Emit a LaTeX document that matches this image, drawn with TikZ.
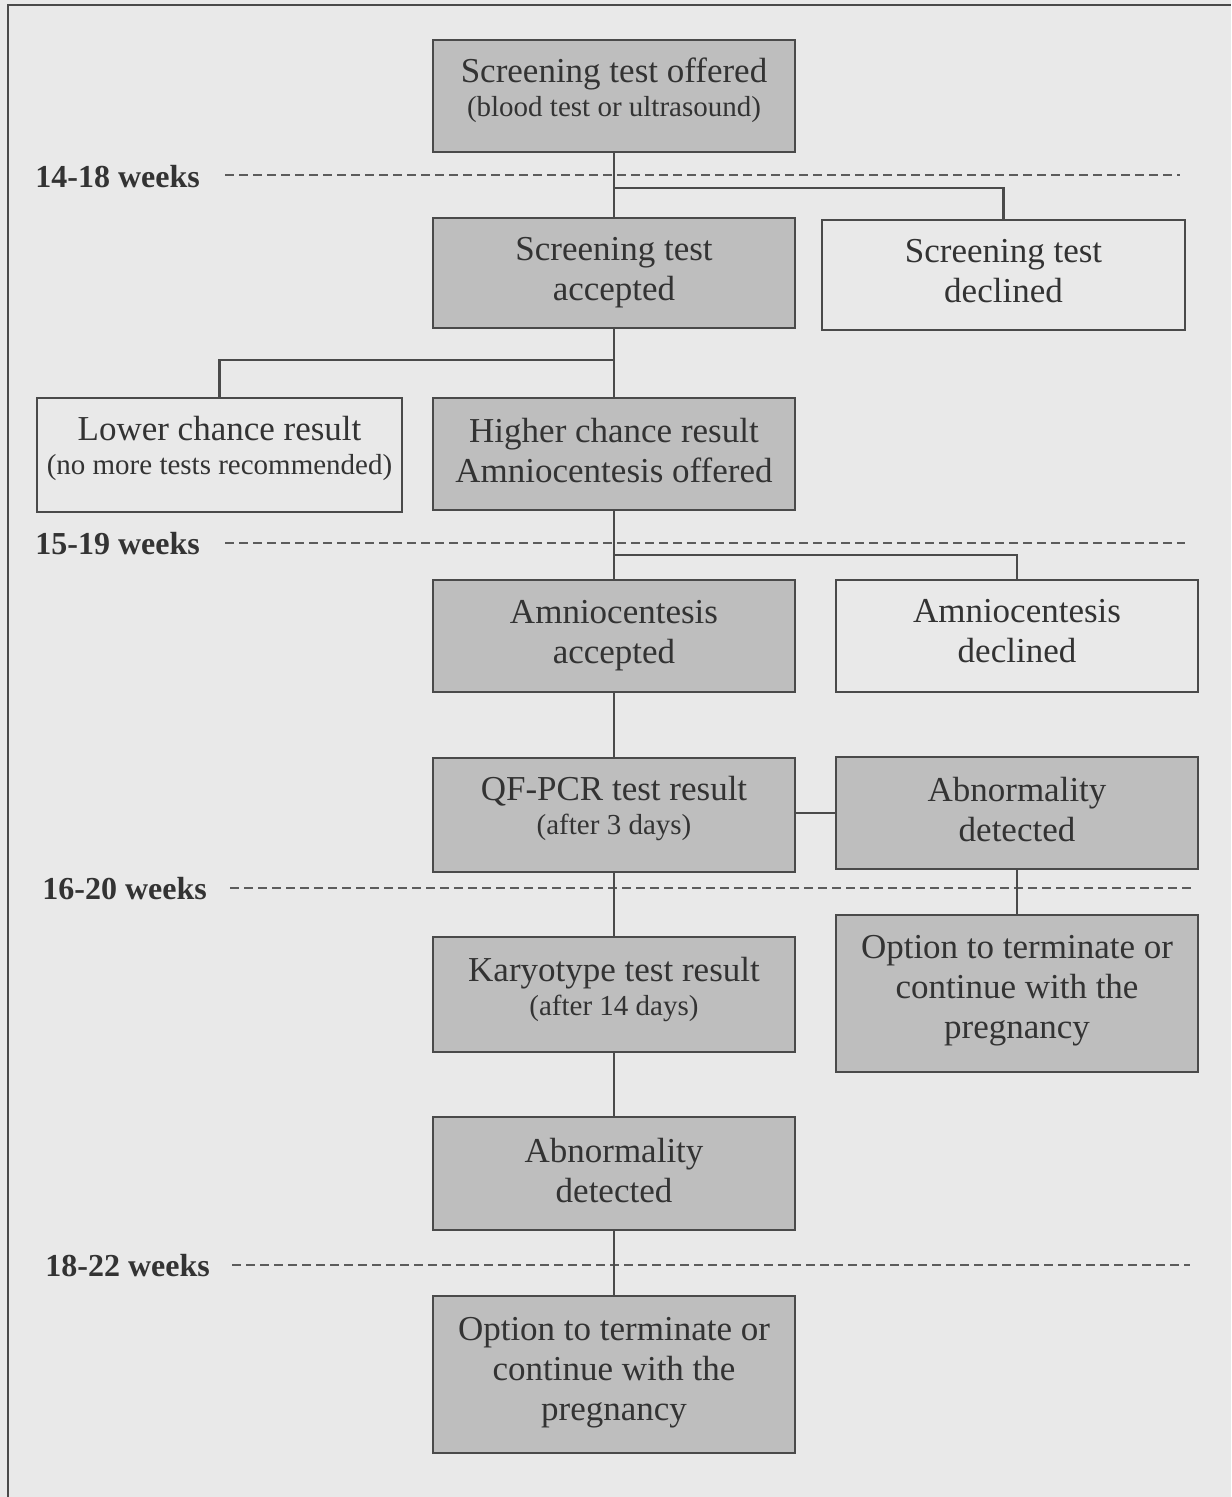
\documentclass[tikz,border=0pt]{standalone}
\usepackage{fontspec}
\setmainfont{Liberation Serif}
\usetikzlibrary{calc}
\definecolor{bgc}{HTML}{E9E9E9}
\definecolor{boxg}{HTML}{BEBEBE}
\definecolor{linec}{HTML}{4A4A4A}
\definecolor{txtc}{HTML}{333333}
\newcommand{\subf}{\fontsize{14.5pt}{17pt}\selectfont}
\newcommand{\lowstrut}[1]{\rule[-#1]{0pt}{#1}}
\tikzset{
  box/.style={draw=linec, line width=1.3pt, text=txtc, align=center, inner sep=0pt,
    font=\fontsize{17.5pt}{20pt}\selectfont},
  graybox/.style={box, fill=boxg},
  whitebox/.style={box, fill=bgc},
  conn/.style={draw=linec, line width=1.2pt},
  weeklbl/.style={text=txtc, anchor=west, inner sep=0pt, font=\fontsize{16pt}{19pt}\selectfont\bfseries},
  weekline/.style={draw=linec!90, line width=1.3pt, dash pattern=on 4.5pt off 2.5pt}
}
\begin{document}
\begin{tikzpicture}[x=0.5pt,y=-0.5pt]
\useasboundingbox (0,0) rectangle (1231,1497);
\fill[bgc] (0,0) rectangle (1231,1497);
\draw[linec, line width=1.2pt] (8,1497) -- (8,5) -- (1231,5);

% week lines
\node[weeklbl] (w1) at (35,177) {14-18 weeks};
\coordinate (w1e) at (1180,175);
\draw[weekline] ($(w1.east)+(25,-2)$) -- (w1e);
\node[weeklbl] (w2) at (35,544) {15-19 weeks};
\coordinate (w2e) at (1185,543);
\draw[weekline] ($(w2.east)+(25,-1)$) -- (w2e);
\node[weeklbl] (w3) at (42,889) {16-20 weeks};
\coordinate (w3e) at (1195,888);
\draw[weekline] ($(w3.east)+(23,-1)$) -- (w3e);
\node[weeklbl] (w4) at (45,1266) {18-22 weeks};
\coordinate (w4e) at (1190,1265);
\draw[weekline] ($(w4.east)+(22,-1)$) -- (w4e);

% boxes (positions in px; sizes in pt = px/2)
\node[graybox, minimum width=181pt, minimum height=56pt] (A) at (614,96)
  {Screening test offered\\[-3pt]\subf (blood test or ultrasound)\lowstrut{9.2pt}};
\node[graybox, minimum width=181pt, minimum height=55pt] (B) at (614,273)
  {Screening test\\accepted};
\node[whitebox, minimum width=181.5pt, minimum height=55pt] (C) at (1003.5,275)
  {Screening test\\declined\lowstrut{4pt}};
\node[whitebox, minimum width=182.5pt, minimum height=57pt] (E) at (219.5,455)
  {Lower chance result\\[-3pt]\subf (no more tests recommended)\lowstrut{9.2pt}};
\node[graybox, minimum width=181pt, minimum height=56pt] (D) at (614,454)
  {Higher chance result\\Amniocentesis offered\lowstrut{4pt}};
\node[graybox, minimum width=181pt, minimum height=56pt] (F) at (614,636)
  {Amniocentesis\\accepted};
\node[whitebox, minimum width=181pt, minimum height=56pt] (G) at (1017,636)
  {Amniocentesis\\declined\lowstrut{5pt}};
\node[graybox, minimum width=181pt, minimum height=57pt] (H) at (614,815)
  {QF-PCR test result\\[-3pt]\subf (after 3 days)\lowstrut{9.2pt}};
\node[graybox, minimum width=181pt, minimum height=56pt] (I) at (1017,813)
  {Abnormality\\detected\lowstrut{4pt}};
\node[graybox, minimum width=181pt, minimum height=78.5pt] (J) at (1017,993.5)
  {Option to terminate or\\continue with the\\pregnancy\lowstrut{6.3pt}};
\node[graybox, minimum width=181pt, minimum height=57.5pt] (K) at (614,994.5)
  {Karyotype test result\\[-3pt]\subf (after 14 days)\lowstrut{8.2pt}};
\node[graybox, minimum width=181pt, minimum height=56.5pt] (L) at (614,1173.5)
  {Abnormality\\detected\lowstrut{3pt}};
\node[graybox, minimum width=181pt, minimum height=78.5pt] (M) at (614,1374.5)
  {Option to terminate or\\continue with the\\pregnancy\lowstrut{5.3pt}};

% connectors
\coordinate (j1) at (614,188);
\coordinate (j2) at (614,360);
\coordinate (j3) at (614,555);
\draw[conn] (A) -- (B);
\draw[conn] (j1) -| (C.north);
\draw[conn] (B) -- (D);
\draw[conn] (j2) -| (E.north);
\draw[conn] (D) -- (F);
\draw[conn] (j3) -| (G.north);
\draw[conn] (F) -- (H);
\draw[conn] (H.east |- I.west) -- (I.west);
\draw[conn] (I) -- (J);
\draw[conn] (H) -- (K);
\draw[conn] (K) -- (L);
\draw[conn] (L) -- (M);
\end{tikzpicture}
\end{document}
